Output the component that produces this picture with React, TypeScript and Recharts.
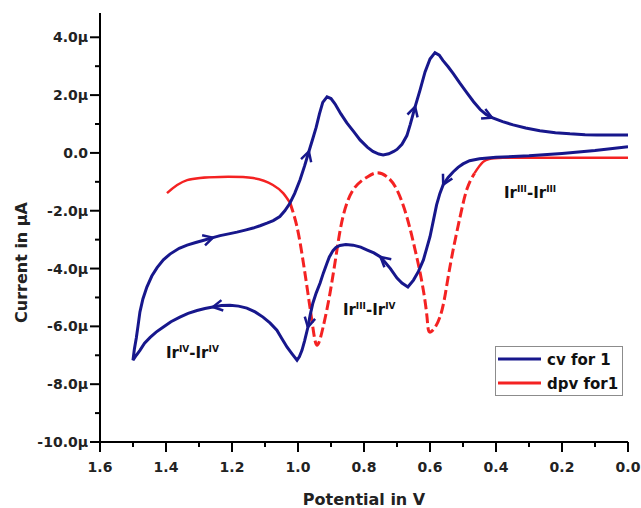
import { LineChart, Line, XAxis, YAxis, Legend, ReferenceDot } from "recharts";

const FONT = "'DejaVu Sans', Arial, sans-serif";
const BLUE = "#17178c";
const RED = "#f42222";

// cyclic voltammogram, in sweep order (potential V, current µA)
const cvLoop: [number, number][] = [
  [0.0, 0.21], [0.1, 0.08], [0.2, -0.02], [0.3, -0.1], [0.4, -0.15], [0.45, -0.2],
  [0.48, -0.27], [0.5, -0.38], [0.515, -0.5], [0.53, -0.66], [0.545, -0.85], [0.56, -1.1],
  [0.57, -1.4], [0.58, -1.8], [0.59, -2.35], [0.6, -2.9], [0.61, -3.3], [0.62, -3.7],
  [0.635, -4.1], [0.65, -4.4], [0.667, -4.64], [0.685, -4.5], [0.7, -4.33], [0.72, -4.0],
  [0.735, -3.8], [0.75, -3.6], [0.77, -3.46], [0.79, -3.36], [0.81, -3.26], [0.833, -3.19],
  [0.855, -3.17], [0.873, -3.2], [0.885, -3.27], [0.894, -3.38], [0.905, -3.6], [0.912, -3.81],
  [0.923, -4.15], [0.933, -4.5], [0.945, -4.85], [0.955, -5.2], [0.963, -5.6], [0.97, -6.03],
  [0.98, -6.5], [0.988, -6.83], [0.996, -7.05], [1.003, -7.17], [1.018, -6.95], [1.033, -6.72],
  [1.05, -6.4], [1.064, -6.13], [1.085, -5.88], [1.106, -5.68], [1.13, -5.5], [1.155, -5.37],
  [1.18, -5.3], [1.206, -5.27], [1.232, -5.28], [1.258, -5.33], [1.282, -5.38], [1.306, -5.45],
  [1.333, -5.55], [1.358, -5.68], [1.385, -5.84], [1.409, -6.03], [1.43, -6.2], [1.448, -6.38],
  [1.465, -6.58], [1.479, -6.83], [1.49, -7.0], [1.5, -7.17],
  [1.496, -6.8], [1.49, -6.4], [1.485, -6.0], [1.479, -5.5], [1.47, -5.05], [1.458, -4.64],
  [1.443, -4.26], [1.427, -3.97], [1.408, -3.7], [1.388, -3.5], [1.36, -3.3], [1.336, -3.19],
  [1.31, -3.1], [1.288, -3.03], [1.258, -2.93], [1.236, -2.86], [1.21, -2.8], [1.185, -2.74],
  [1.16, -2.67], [1.136, -2.6], [1.115, -2.52], [1.094, -2.43], [1.075, -2.34], [1.055, -2.2],
  [1.04, -2.0], [1.025, -1.75], [1.01, -1.4], [0.994, -0.94], [0.98, -0.45], [0.967, 0.05],
  [0.955, 0.5], [0.945, 0.88], [0.935, 1.35], [0.925, 1.75], [0.912, 1.94], [0.9, 1.88],
  [0.888, 1.7], [0.87, 1.35], [0.852, 1.04], [0.83, 0.72], [0.812, 0.45], [0.79, 0.2],
  [0.773, 0.05], [0.755, -0.04], [0.742, -0.07], [0.725, -0.03], [0.71, 0.05], [0.7, 0.12],
  [0.685, 0.3], [0.67, 0.6], [0.66, 0.98], [0.645, 1.6], [0.63, 2.18], [0.615, 2.8],
  [0.6, 3.25], [0.585, 3.47], [0.572, 3.38], [0.561, 3.2], [0.545, 2.98], [0.53, 2.75],
  [0.51, 2.42], [0.488, 2.08], [0.468, 1.77], [0.448, 1.5], [0.43, 1.33], [0.412, 1.22],
  [0.38, 1.08], [0.348, 0.97], [0.31, 0.86], [0.267, 0.77], [0.22, 0.7], [0.176, 0.66],
  [0.13, 0.63], [0.094, 0.62], [0.0, 0.62],
];
// points of cvLoop that carry a sweep-direction arrow
const cvArrows: [number, number][] = [
  [0.56, -1.1], [0.75, -3.6], [0.97, -6.03], [1.258, -5.33],
  [1.258, -2.93], [0.967, 0.05], [0.645, 1.6], [0.412, 1.22],
];

// differential pulse voltammogram
const dpv: [number, number][] = [
  [1.397, -1.39], [1.336, -0.94], [1.236, -0.83], [1.136, -0.87], [1.076, -1.11],
  [1.045, -1.39], [1.024, -1.73], [1.003, -2.56], [0.985, -3.71], [0.97, -4.85],
  [0.955, -6.03], [0.942, -6.65], [0.924, -6.03], [0.903, -4.85], [0.882, -3.36],
  [0.864, -2.22], [0.833, -1.28], [0.79, -0.83], [0.76, -0.69], [0.73, -0.83],
  [0.7, -1.28], [0.67, -2.22], [0.645, -3.36], [0.624, -4.5], [0.609, -5.68],
  [0.6, -6.2], [0.57, -5.68], [0.548, -4.5], [0.53, -3.36], [0.509, -2.22],
  [0.488, -1.25], [0.465, -0.7], [0.439, -0.31], [0.379, -0.17], [0.2, -0.17],
  [0.0, -0.17],
];

const xTicks = [0, 0.1, 0.2, 0.3, 0.4, 0.5, 0.6, 0.7, 0.8, 0.9, 1.0, 1.1, 1.2, 1.3, 1.4, 1.5, 1.6];
const yTicks = [-10, -9, -8, -7, -6, -5, -4, -3, -2, -1, 0, 1, 2, 3, 4];

const annotations = [
  { v: 1.4, i: -7.1, a: "IV", b: "IV" },
  { v: 0.864, i: -5.62, a: "III", b: "IV" },
  { v: 0.376, i: -1.56, a: "III", b: "III" },
];

const toRows = (pts: [number, number][]) => pts.map(([v, i]) => ({ v, i }));
const cvData = toRows(cvLoop);
const dpvLeft = toRows(dpv.filter(([v]) => v >= 1.024));
const dpvMid = toRows(dpv.filter(([v]) => v <= 1.024 && v >= 0.465));
const dpvRight = toRows(dpv.filter(([v]) => v <= 0.465));
const arrowIdx = cvArrows.map(([v, i]) => cvLoop.findIndex((p) => p[0] === v && p[1] === i));

const XTick = (p: any) => {
  const v = p.payload.value;
  const major = Math.round(v * 10) % 2 === 0;
  return (
    <g>
      <line x1={p.x} x2={p.x} y1={p.y} y2={p.y + (major ? 10 : 5)} stroke="#000" strokeWidth={2} />
      {major && (
        <text x={p.x} y={p.y + 30} textAnchor="middle" fontFamily={FONT} fontWeight="bold" fontSize={14} fill="#222">
          {v.toFixed(1)}
        </text>
      )}
    </g>
  );
};

const YTick = (p: any) => {
  const v = p.payload.value;
  const major = v % 2 === 0;
  return (
    <g>
      <line x1={p.x - (major ? 10 : 5)} x2={p.x} y1={p.y} y2={p.y} stroke="#000" strokeWidth={2} />
      {major && (
        <text x={p.x - 12} y={p.y + 5} textAnchor="end" fontFamily={FONT} fontWeight="bold" fontSize={14} fill="#222">
          {v === 0 ? "0.0" : `${v.toFixed(1)}μ`}
        </text>
      )}
    </g>
  );
};

const ArrowDot = (p: any) => {
  const { index, cx, cy, points } = p;
  if (!arrowIdx.includes(index) || !points) return <g key={`d${index}`} />;
  const a = points[index - 1];
  const b = points[index + 1];
  const ang = Math.atan2(b.y - a.y, b.x - a.x);
  const len = 11;
  const s = 0.5;
  const x1 = cx - len * Math.cos(ang - s);
  const y1 = cy - len * Math.sin(ang - s);
  const x2 = cx - len * Math.cos(ang + s);
  const y2 = cy - len * Math.sin(ang + s);
  return (
    <path key={`d${index}`} d={`M${x1},${y1}L${cx},${cy}L${x2},${y2}`} fill="none" stroke={BLUE} strokeWidth={2.5} />
  );
};

const renderLegend = (props: any) => {
  const items = (props.payload || []).filter((p: any) => p.type !== "none");
  return (
    <svg width={128} height={50} style={{ display: "block" }}>
      <rect x={0.5} y={0.5} width={127} height={49} fill="#fff" stroke="#8c8c8c" />
      {items.map((p: any, k: number) => (
        <g key={p.value}>
          <line x1={3} x2={46} y1={13 + 24 * k} y2={13 + 24 * k} stroke={p.color} strokeWidth={3} />
          <text x={52} y={19 + 24 * k} fontFamily={FONT} fontWeight="bold" fontSize={15} fill="#111">
            {p.value}
          </text>
        </g>
      ))}
    </svg>
  );
};

const annotationLabel = (a: string, b: string) => (p: any) => (
  <text x={p.viewBox.x} y={p.viewBox.y} fontFamily={FONT} fontWeight="bold" fontSize={15} fill="#111">
    Ir<tspan fontSize={9} dy={-6}>{a}</tspan>
    <tspan dy={6}>-Ir</tspan>
    <tspan fontSize={9} dy={-6}>{b}</tspan>
  </text>
);

export default function App() {
  return (
    <div style={{ position: "absolute", left: 0, top: 0, background: "#fff" }}>
      <LineChart width={641} height={508} margin={{ top: 13, right: 13, bottom: 0, left: 0 }}>
        <XAxis
          type="number"
          dataKey="v"
          domain={[0, 1.6]}
          reversed
          allowDataOverflow
          ticks={xTicks}
          interval={0}
          tickSize={0}
          tickMargin={0}
          tickLine={false}
          tick={(p: any) => <XTick {...p} />}
          axisLine={{ stroke: "#000", strokeWidth: 2 }}
          height={66}
          label={{
            content: (p: any) => (
              <text
                x={p.viewBox.x + p.viewBox.width / 2}
                y={p.viewBox.y + 63}
                textAnchor="middle"
                fontFamily={FONT}
                fontWeight="bold"
                fontSize={16}
                fill="#222"
              >
                Potential in V
              </text>
            ),
          }}
        />
        <YAxis
          type="number"
          domain={[-10, 4.84]}
          allowDataOverflow
          ticks={yTicks}
          interval={0}
          tickSize={0}
          tickMargin={0}
          tickLine={false}
          tick={(p: any) => <YTick {...p} />}
          axisLine={{ stroke: "#000", strokeWidth: 2 }}
          width={100}
          label={{
            content: (p: any) => {
              const cy = p.viewBox.y + p.viewBox.height / 2 + 35;
              return (
                <text
                  x={27}
                  y={cy}
                  transform={`rotate(-90 27 ${cy})`}
                  textAnchor="middle"
                  fontFamily={FONT}
                  fontWeight="bold"
                  fontSize={16}
                  fill="#222"
                >
                  Current in μA
                </text>
              );
            },
          }}
        />
        <Line
          data={dpvLeft}
          dataKey="i"
          name="dpv left"
          stroke={RED}
          strokeWidth={2.5}
          type="natural"
          dot={false}
          activeDot={false}
          legendType="none"
          isAnimationActive={false}
        />
        <Line
          data={dpvMid}
          dataKey="i"
          name="dpv mid"
          stroke={RED}
          strokeWidth={3}
          strokeDasharray="10 4"
          type="natural"
          dot={false}
          activeDot={false}
          legendType="none"
          isAnimationActive={false}
        />
        <Line
          data={dpvRight}
          dataKey="i"
          name="dpv right"
          stroke={RED}
          strokeWidth={2.5}
          type="natural"
          dot={false}
          activeDot={false}
          legendType="none"
          isAnimationActive={false}
        />
        <Line
          data={cvData}
          dataKey="i"
          name="cv for 1"
          stroke={BLUE}
          strokeWidth={3}
          type="linear"
          dot={ArrowDot}
          activeDot={false}
          isAnimationActive={false}
        />
        <Line
          data={dpvRight}
          dataKey="i"
          name="dpv for1"
          stroke={RED}
          strokeWidth={0}
          type="natural"
          dot={false}
          activeDot={false}
          isAnimationActive={false}
        />
        {annotations.map((a) => (
          <ReferenceDot
            key={`${a.a}-${a.b}`}
            x={a.v}
            y={a.i}
            r={0}
            fill="none"
            stroke="none"
            label={{ content: annotationLabel(a.a, a.b) }}
          />
        ))}
        <Legend
          layout="vertical"
          align="center"
          verticalAlign="middle"
          content={renderLegend}
          wrapperStyle={{ position: "absolute", left: 495, top: 346, width: 128, height: 50 }}
        />
      </LineChart>
    </div>
  );
}
